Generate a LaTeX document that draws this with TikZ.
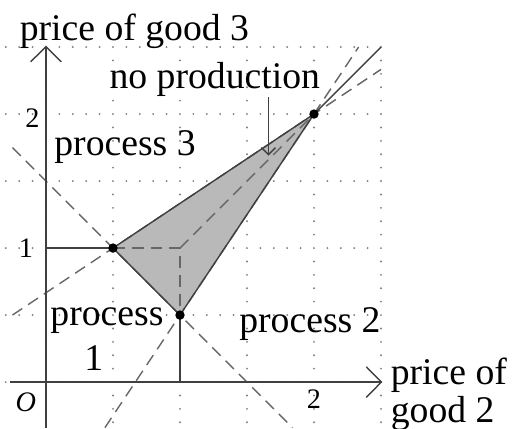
\documentclass[tikz,border=0pt]{standalone}
\usepackage{fontspec}
\setmainfont{Liberation Serif}
\usetikzlibrary{arrows.meta}
\begin{document}
\begin{tikzpicture}[x=2cm,y=2cm,
    every node/.style={inner sep=0pt},
    font=\fontsize{16}{19}\selectfont,
    tick/.style={font=\fontsize{12}{14}\selectfont},
    gridline/.style={gray,line width=0.9pt,line cap=round,dash pattern=on 0pt off 5.6905pt},
    axis/.style={black!75,line width=0.6pt,-{Straight Barb[length=6.4pt,width=13pt]}},
    border/.style={black!75,line width=0.6pt},
    ray/.style={black!60,line width=0.6pt,dash pattern=on 5pt off 3pt},
    pointer/.style={black!75,line width=0.6pt,-{Straight Barb[length=3pt,width=6pt]}}]
    \useasboundingbox (-0.343,-0.343) rectangle (3.485,2.851);
    \draw[gridline] (-0.3,-0.3) grid[step=0.5] (2.5,2.5);
    % corner points of the no-production region
    \coordinate (P) at (0.5,1);
    \coordinate (Q) at (1,0.5);
    \coordinate (R) at (2,2);
    \coordinate (S) at (1,1);
    \filldraw[fill=gray!55,draw=none] (P) -- (R) -- (Q) -- cycle;
    \draw[ray] (-0.25,1.75) -- (1.84,-0.34);
    \draw[ray] (-0.25,0.5) -- (2.5,2.333);
    \draw[ray] (0.44,-0.34) -- (2.333,2.5);
    \draw[ray] (P) -- (S) -- (Q);
    \draw[ray] (S) -- (R);
    \draw[border] (P) -- (R) -- (Q) -- cycle;
    \draw[border] (R) -- (2.5,2.5);
    \draw[border] (0,1) -- (P);
    \draw[border] (1,0) -- (Q);
    \draw[axis] (-0.27,0) -- (2.51,0);
    \draw[axis] (0,-0.343) -- (0,2.51);
    \foreach \p in {P,Q,R}{\fill (\p) circle (2pt);}
    % labels
    \node[anchor=base] (goodthree) at (0.66,2.55) {price of good 3};
    \node[anchor=base west,align=left] (goodtwo) at (2.57,-0.3) {price of\\[-3pt]good 2};
    \node[anchor=base] (noprod) at (1.26,2.19) {no production};
    \node[anchor=base] (procthree) at (0.59,1.69) {process 3};
    \node[anchor=base west,align=left] (procone) at (0.03,0.09) {process\\\hspace*{0.9em}1};
    \node[anchor=base] (proctwo) at (1.97,0.37) {process 2};
    \node[tick,anchor=base] (yone) at (-0.15,0.93) {1};
    \node[tick,anchor=base] (ytwo) at (-0.1,1.9) {2};
    \node[tick,anchor=base] (xtwo) at (2,-0.2) {2};
    \node[tick,anchor=base] (orig) at (-0.15,-0.22) {\itshape O};
    \coordinate (nptip) at (1.66,1.69);
    \draw[pointer] (noprod.south -| nptip) -- (nptip);
\end{tikzpicture}
\end{document}
